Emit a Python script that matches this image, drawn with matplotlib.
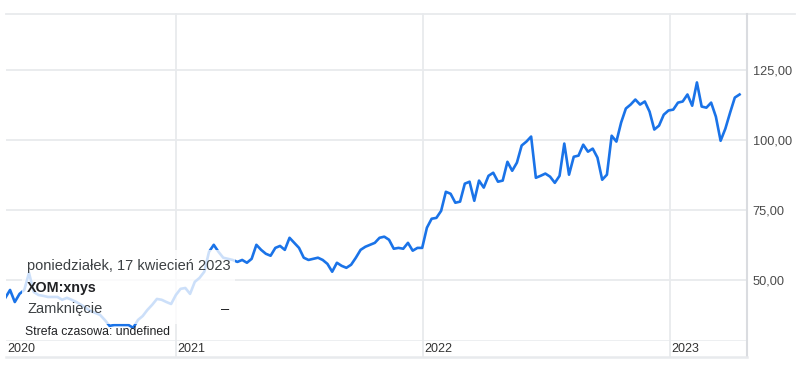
import matplotlib
matplotlib.use("Agg")
import matplotlib.pyplot as plt
from matplotlib.patches import Rectangle
import matplotlib.dates as mdates
import pandas as pd

plt.rcParams['font.family'] = ['Liberation Sans', 'DejaVu Sans']

# weekly closes of XOM
start_date = "2020-04-24"
closes = [
    43.6, 46.4, 42.1, 45.0, 46.4, 52.5, 45.7, 44.6, 44.3, 43.9,
    43.9, 43.9, 42.9, 43.6, 42.9, 42.1, 41.1, 40.0, 38.9, 38.2,
    37.5, 35.7, 33.6, 33.9, 33.9, 33.9, 33.9, 32.9, 35.7, 37.1,
    39.3, 41.1, 43.2, 42.9, 42.1, 41.4, 44.6, 46.8, 47.1, 45.0,
    49.3, 50.7, 52.9, 60.0, 62.5, 60.0, 57.9, 57.5, 57.1, 56.4,
    57.1, 56.1, 57.5, 62.5, 60.7, 59.3, 58.6, 61.4, 62.1, 60.7,
    65.0, 63.2, 61.4, 57.9, 57.1, 57.5, 57.9, 57.1, 55.7, 52.9,
    56.1, 55.0, 54.3, 55.4, 57.9, 60.7, 61.8, 62.5, 63.2, 65.0,
    65.4, 64.3, 61.1, 61.4, 61.1, 63.2, 60.4, 61.4, 61.4, 68.6,
    71.8, 72.1, 74.6, 81.4, 80.7, 77.5, 77.9, 84.3, 85.0, 78.2,
    85.4, 82.9, 87.1, 88.2, 85.0, 85.4, 92.1, 88.9, 91.8, 97.9,
    99.3, 101.1, 86.4, 87.1, 87.9, 86.8, 84.6, 87.1, 98.6, 87.5,
    93.9, 94.3, 98.2, 95.7, 96.8, 93.6, 85.7, 87.5, 101.4, 99.3,
    106.1, 111.1, 112.5, 114.3, 112.5, 113.6, 110.0, 103.6, 105.0, 108.9,
    110.4, 110.7, 113.2, 113.6, 116.1, 112.1, 120.4, 111.8, 111.4, 113.2,
    108.2, 99.6, 103.9, 109.6, 115.0, 116.1,
]
dates = pd.date_range(start_date, periods=len(closes), freq="7D")

y_ticks = [50, 75, 100, 125]
year_marks = ["2021-01-01", "2022-01-01", "2023-01-01"]
year_labels = ["2020", "2021", "2022", "2023"]

W, H = 802, 372
grid_col = "#e8eaed"
blue = "#1a73e8"


def fx(px):
    return px / W


def fy(py):
    return 1 - py / H


fig = plt.figure(figsize=(W / 100, H / 100), dpi=100)
# plot area: x 6..747, y 14..341 (pixels)
ax = fig.add_axes([fx(6), fy(341), fx(747) - fx(6), fy(14) - fy(341)])

x_left = pd.Timestamp("2020-04-25")
x_right = pd.Timestamp("2023-04-25")
ax.set_xlim(x_left, x_right)
ax.set_ylim(28.2, 144.8)

ax.plot(dates, closes, color=blue, linewidth=1.9, solid_joinstyle="round", zorder=3)

for s in ax.spines.values():
    s.set_visible(False)

# horizontal grid
for v in y_ticks:
    ax.axhline(v, color=grid_col, linewidth=1.3, zorder=1)
# top line runs past the value axis
ax.axhline(144.8, xmin=0, xmax=(795 - 6) / 741, color=grid_col, linewidth=1.3,
           clip_on=False, zorder=1)
ax.axhline(28.2, color=grid_col, linewidth=1.8, zorder=1)

# vertical year lines + right axis line, down through the label band
below = -(357 - 341) / 327
for d in year_marks:
    ax.axvline(pd.Timestamp(d), ymin=below, ymax=1, color=grid_col, linewidth=1.3,
               clip_on=False, zorder=1)
ax.axvline(x_right, ymin=below, ymax=1, color="#dadce0", linewidth=1.5,
           clip_on=False, zorder=1)
fig.add_artist(plt.Line2D([fx(6), fx(747)], [fy(357), fy(357)], color=grid_col,
                          linewidth=1.8))

ax.set_xticks([])
ax.yaxis.tick_right()
ax.set_yticks(y_ticks)
ax.set_yticklabels([f"{v:.2f}".replace(".", ",") for v in y_ticks])
ax.tick_params(axis="y", length=0, pad=4, labelsize=9.2, labelcolor="#4a4a4a")

# year labels
label_pos = [x_left] + [pd.Timestamp(d) for d in year_marks]
for d, lab in zip(label_pos, year_labels):
    ax.text(mdates.date2num(d) + 2, 28.2 - 8 / 2.8, lab, fontsize=9.0, color="#333333",
            ha="left", va="center")

# tooltip overlay
fig.add_artist(Rectangle((fx(22), fy(324)), fx(235) - fx(22), fy(250) - fy(324),
                         transform=fig.transFigure, facecolor="white", alpha=0.78,
                         edgecolor="none", zorder=5))
fig.text(fx(27), fy(266), "poniedziałek, 17 kwiecień 2023", fontsize=10.5,
         color="#3c4043", va="center", ha="left", zorder=6)
fig.text(fx(27), fy(288), "XOM:xnys", fontsize=10.3, fontweight="bold",
         color="#202124", va="center", ha="left", zorder=6)
fig.text(fx(27), fy(309), "Zamknięcie", fontsize=10.5, color="#3c4043",
         va="center", ha="left", zorder=6)
fig.text(fx(229), fy(309), "–", fontsize=10.5, color="#202124",
         va="center", ha="right", zorder=6)
fig.text(fx(25), fy(332), "Strefa czasowa: undefined", fontsize=8.8,
         color="#202124", va="center", ha="left", zorder=6)

fig.savefig("out.png", dpi=100)
